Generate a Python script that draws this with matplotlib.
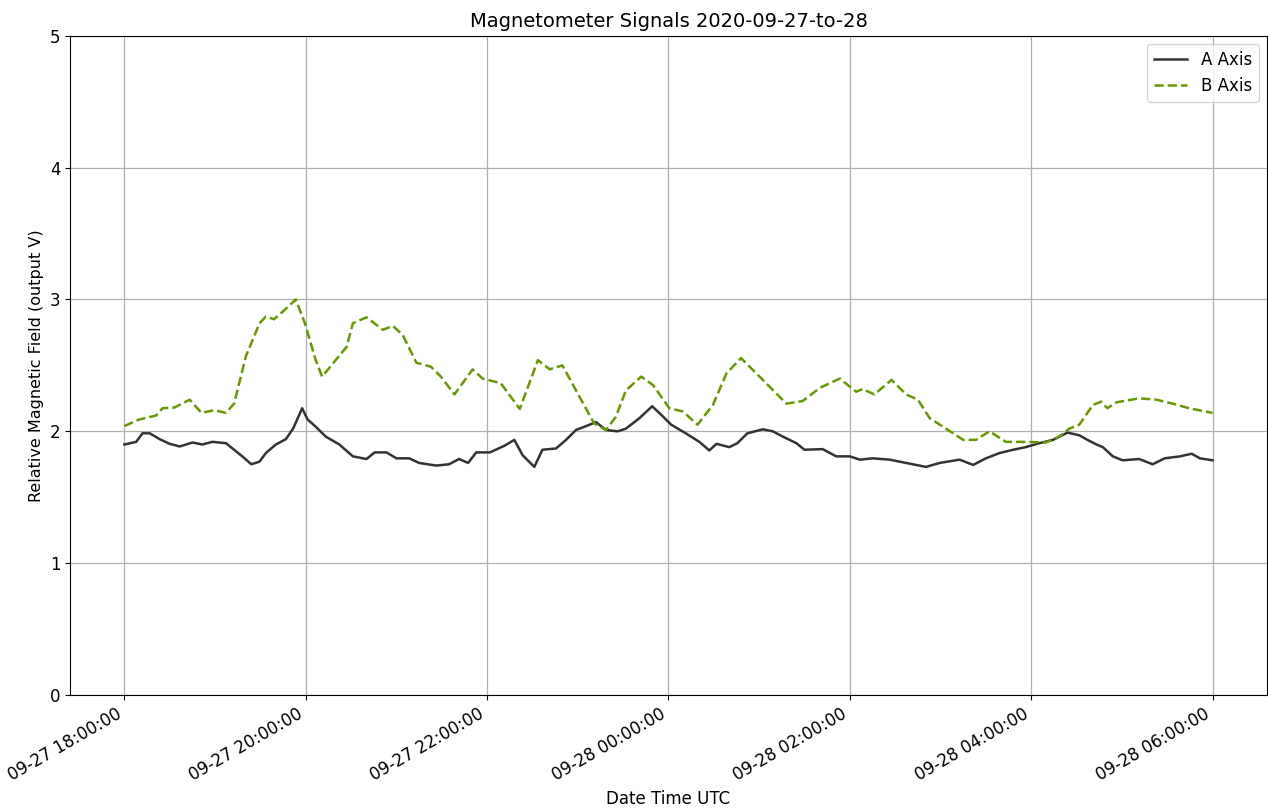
import matplotlib
matplotlib.use("Agg")
import matplotlib.pyplot as plt
import matplotlib.dates as mdates
import pandas as pd

start = pd.Timestamp("2020-09-27 18:00:00")

# A axis: hours after 18:00 and value
a_hours = [0.00, 0.13, 0.20, 0.28, 0.39, 0.50, 0.61, 0.75, 0.86, 0.97, 1.12, 1.21, 1.30, 1.40,
           1.49, 1.56, 1.67, 1.78, 1.86, 1.96, 2.02, 2.11, 2.22, 2.37, 2.52, 2.67, 2.76, 2.89,
           3.00, 3.14, 3.25, 3.44, 3.58, 3.69, 3.79, 3.88, 4.03, 4.19, 4.30, 4.39, 4.52, 4.61,
           4.76, 4.87, 4.98, 5.13, 5.20, 5.31, 5.44, 5.53, 5.68, 5.82, 5.92, 6.03, 6.19, 6.34,
           6.45, 6.53, 6.67, 6.76, 6.87, 7.04, 7.15, 7.26, 7.41, 7.50, 7.70, 7.85, 8.00, 8.11,
           8.25, 8.44, 8.62, 8.84, 8.99, 9.21, 9.36, 9.50, 9.65, 9.80, 9.94, 10.09, 10.24, 10.40,
           10.53, 10.62, 10.72, 10.79, 10.90, 11.01, 11.19, 11.34, 11.47, 11.64, 11.77, 11.86, 12.00]
a_vals = [1.90, 1.92, 1.985, 1.985, 1.94, 1.905, 1.885, 1.915, 1.90, 1.92, 1.91, 1.86, 1.81, 1.75,
          1.77, 1.835, 1.90, 1.94, 2.02, 2.175, 2.09, 2.035, 1.96, 1.90, 1.81, 1.79, 1.84, 1.84,
          1.795, 1.795, 1.76, 1.74, 1.75, 1.79, 1.76, 1.84, 1.84, 1.89, 1.935, 1.82, 1.73, 1.86,
          1.87, 1.935, 2.01, 2.05, 2.07, 2.01, 2.00, 2.02, 2.10, 2.19, 2.125, 2.05, 1.985, 1.92,
          1.855, 1.905, 1.88, 1.91, 1.985, 2.015, 2.00, 1.96, 1.91, 1.86, 1.865, 1.81, 1.81, 1.785,
          1.795, 1.785, 1.76, 1.73, 1.76, 1.785, 1.745, 1.795, 1.835, 1.86, 1.88, 1.91, 1.935, 1.99,
          1.97, 1.935, 1.90, 1.88, 1.81, 1.78, 1.79, 1.75, 1.795, 1.81, 1.83, 1.795, 1.78]

# B axis: hours after 18:00 and value
b_hours = [0.00, 0.165, 0.35, 0.42, 0.55, 0.72, 0.85, 0.99, 1.12, 1.21, 1.34, 1.49, 1.56, 1.65,
           1.75, 1.89, 1.99, 2.11, 2.18, 2.33, 2.45, 2.52, 2.67, 2.85, 2.96, 3.07, 3.22, 3.38,
           3.49, 3.64, 3.84, 3.95, 4.15, 4.36, 4.56, 4.69, 4.83, 5.02, 5.18, 5.31, 5.42, 5.53,
           5.70, 5.83, 6.01, 6.16, 6.32, 6.49, 6.64, 6.80, 7.04, 7.30, 7.48, 7.67, 7.89, 8.07,
           8.14, 8.27, 8.46, 8.62, 8.75, 8.88, 9.06, 9.25, 9.39, 9.54, 9.72, 9.94, 10.16, 10.31,
           10.42, 10.53, 10.68, 10.77, 10.84, 10.94, 11.19, 11.38, 11.56, 11.74, 12.00]
b_vals = [2.04, 2.09, 2.12, 2.175, 2.18, 2.24, 2.14, 2.16, 2.14, 2.21, 2.57, 2.82, 2.87, 2.85,
          2.91, 3.00, 2.82, 2.54, 2.415, 2.54, 2.64, 2.82, 2.865, 2.77, 2.80, 2.73, 2.52, 2.49,
          2.415, 2.28, 2.47, 2.40, 2.365, 2.17, 2.54, 2.47, 2.50, 2.26, 2.06, 2.01, 2.11, 2.31,
          2.415, 2.35, 2.175, 2.15, 2.05, 2.20, 2.44, 2.555, 2.39, 2.21, 2.23, 2.33, 2.40, 2.30,
          2.32, 2.28, 2.39, 2.28, 2.24, 2.10, 2.02, 1.935, 1.935, 2.00, 1.92, 1.92, 1.915, 1.96,
          2.02, 2.05, 2.20, 2.225, 2.175, 2.22, 2.25, 2.24, 2.21, 2.175, 2.14]

a_times = [start + pd.Timedelta(hours=h) for h in a_hours]
b_times = [start + pd.Timedelta(hours=h) for h in b_hours]

fig = plt.figure(figsize=(12.68, 8.10), dpi=100)
ax = fig.add_axes([0.0552, 0.142, 0.9440, 0.8138])
ax.plot(a_times, a_vals, color="#333333", linestyle="-", linewidth=1.8, label="A Axis")
ax.plot(b_times, b_vals, color="#669900", linestyle="--", linewidth=1.8, label="B Axis")

ax.set_ylim(0, 5)
ax.set_yticks([0, 1, 2, 3, 4, 5])
ticks = [start + pd.Timedelta(hours=h) for h in range(0, 13, 2)]
ax.set_xticks(ticks)
ax.xaxis.set_major_formatter(mdates.DateFormatter("%m-%d %H:%M:%S"))
for lbl in ax.get_xticklabels():
    lbl.set_rotation(30)
    lbl.set_ha("right")
ax.grid(True, color="#b0b0b0", linewidth=0.9)
ax.set_title("Magnetometer Signals 2020-09-27-to-28", fontsize=14)
ax.set_xlabel("Date Time UTC", fontsize=12)
ax.set_ylabel("Relative Magnetic Field (output V)", fontsize=11.5)
ax.tick_params(labelsize=12)
ax.legend(loc="upper right", fontsize=12)

fig.savefig("out.png", dpi=100)
